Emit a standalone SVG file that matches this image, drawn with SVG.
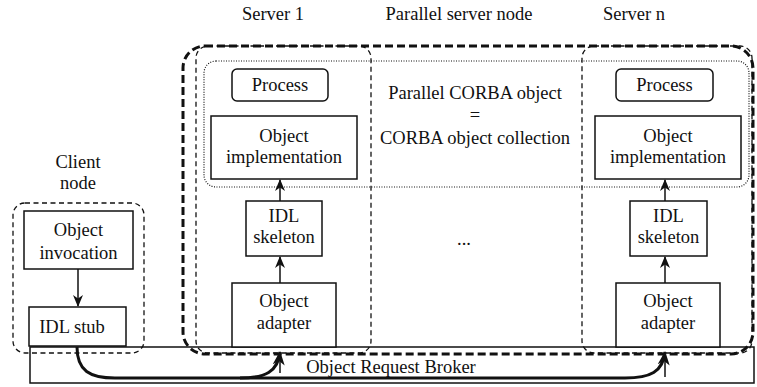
<svg xmlns="http://www.w3.org/2000/svg" width="757" height="387" viewBox="0 0 757 387">
<style>
text{font-family:"Liberation Serif","Times New Roman",serif;font-size:18.5px;fill:#111;text-anchor:middle}
.box{fill:#fff;stroke:#111;stroke-width:1.5}
.grp{fill:none;stroke:#111;stroke-width:1.3;stroke-dasharray:5,3.5}
.big{fill:none;stroke:#111;stroke-width:3;stroke-dasharray:8,4}
.dot{fill:none;stroke:#111;stroke-width:1.2;stroke-dasharray:1,1.5}
.arr{fill:none;stroke:#111;stroke-width:1.5}
.curve{fill:none;stroke:#111;stroke-width:3}
</style>
<defs>
<marker id="ah" viewBox="0 0 12 12" refX="11" refY="6" markerWidth="12" markerHeight="12" markerUnits="userSpaceOnUse" orient="auto">
<path d="M0,1 L12,6 L0,11 L3.5,6 z" fill="#111"/>
</marker>
<marker id="ahb" viewBox="0 0 14 14" refX="13" refY="7" markerWidth="14" markerHeight="14" markerUnits="userSpaceOnUse" orient="auto">
<path d="M0,1 L14,7 L0,13 L4,7 z" fill="#111"/>
</marker>
</defs>
<g id="orb">
<rect class="box" x="30" y="347" width="724" height="36"/>
<text x="391" y="373">Object Request Broker</text>
</g>
<g id="labels">
<text x="273" y="20">Server 1</text>
<text x="459" y="20">Parallel server node</text>
<text x="634" y="20">Server n</text>
<text x="78" y="168">Client</text>
<text x="78" y="189">node</text>
<text x="475" y="99">Parallel CORBA object</text>
<text x="475" y="121">=</text>
<text x="475" y="144">CORBA object collection</text>
<text x="464" y="245">...</text>
</g>
<g id="parallel-server-node"><rect class="big" x="183" y="46" width="570" height="308" rx="22"/></g>
<g id="server1-group"><rect class="grp" x="196" y="46" width="175" height="307" rx="12"/></g>
<g id="servern-group"><rect class="grp" x="582" y="46" width="170" height="307" rx="12"/></g>
<g id="client-group"><rect class="grp" x="13" y="203" width="131" height="150" rx="12"/></g>
<g id="parallel-corba-object"><rect class="dot" x="204" y="61" width="545" height="126" rx="12"/></g>
<g id="object-invocation">
<rect class="box" x="24" y="211" width="109" height="58"/>
<text x="78.5" y="236">Object</text>
<text x="78.5" y="259">invocation</text>
</g>
<g id="idl-stub">
<rect class="box" x="29" y="307" width="97" height="39"/>
<text x="72" y="333">IDL stub</text>
</g>
<g id="process-1">
<rect class="box" x="232" y="69" width="96" height="32" rx="5"/>
<text x="280" y="91">Process</text>
</g>
<g id="object-implementation-1">
<rect class="box" x="211" y="116" width="146" height="63"/>
<text x="284" y="142">Object</text>
<text x="284" y="163">implementation</text>
</g>
<g id="idl-skeleton-1">
<rect class="box" x="246" y="201" width="76" height="55"/>
<text x="284" y="222">IDL</text>
<text x="284" y="243">skeleton</text>
</g>
<g id="object-adapter-1">
<rect class="box" x="232" y="283" width="104" height="64"/>
<text x="284" y="307">Object</text>
<text x="284" y="329">adapter</text>
</g>
<g id="process-n">
<rect class="box" x="616" y="69" width="97" height="32" rx="5"/>
<text x="664.5" y="91">Process</text>
</g>
<g id="object-implementation-n">
<rect class="box" x="595" y="116" width="146" height="63"/>
<text x="668" y="142">Object</text>
<text x="668" y="163">implementation</text>
</g>
<g id="idl-skeleton-n">
<rect class="box" x="630" y="201" width="77" height="55"/>
<text x="668.5" y="222">IDL</text>
<text x="668.5" y="243">skeleton</text>
</g>
<g id="object-adapter-n">
<rect class="box" x="616" y="283" width="104" height="64"/>
<text x="668" y="307">Object</text>
<text x="668" y="329">adapter</text>
</g>
<g id="connectors">
<line class="arr" x1="78" y1="269" x2="78" y2="306" marker-end="url(#ah)"/>
<line class="arr" x1="280" y1="283" x2="280" y2="257" marker-end="url(#ah)"/>
<line class="arr" x1="280" y1="201" x2="280" y2="180" marker-end="url(#ah)"/>
<line class="arr" x1="665" y1="283" x2="665" y2="257" marker-end="url(#ah)"/>
<line class="arr" x1="665" y1="201" x2="665" y2="180" marker-end="url(#ah)"/>
<line class="arr" x1="280" y1="355" x2="280" y2="373"/>
<line class="arr" x1="665" y1="355" x2="665" y2="377"/>
<path class="curve" d="M77,347 C77,371 90,378 115,378 L625,378 C650,378 663,372 665,352" marker-end="url(#ahb)"/>
<path class="curve" d="M240,378 C265,378 278,372 280,352" marker-end="url(#ahb)"/>
</g>
</svg>
